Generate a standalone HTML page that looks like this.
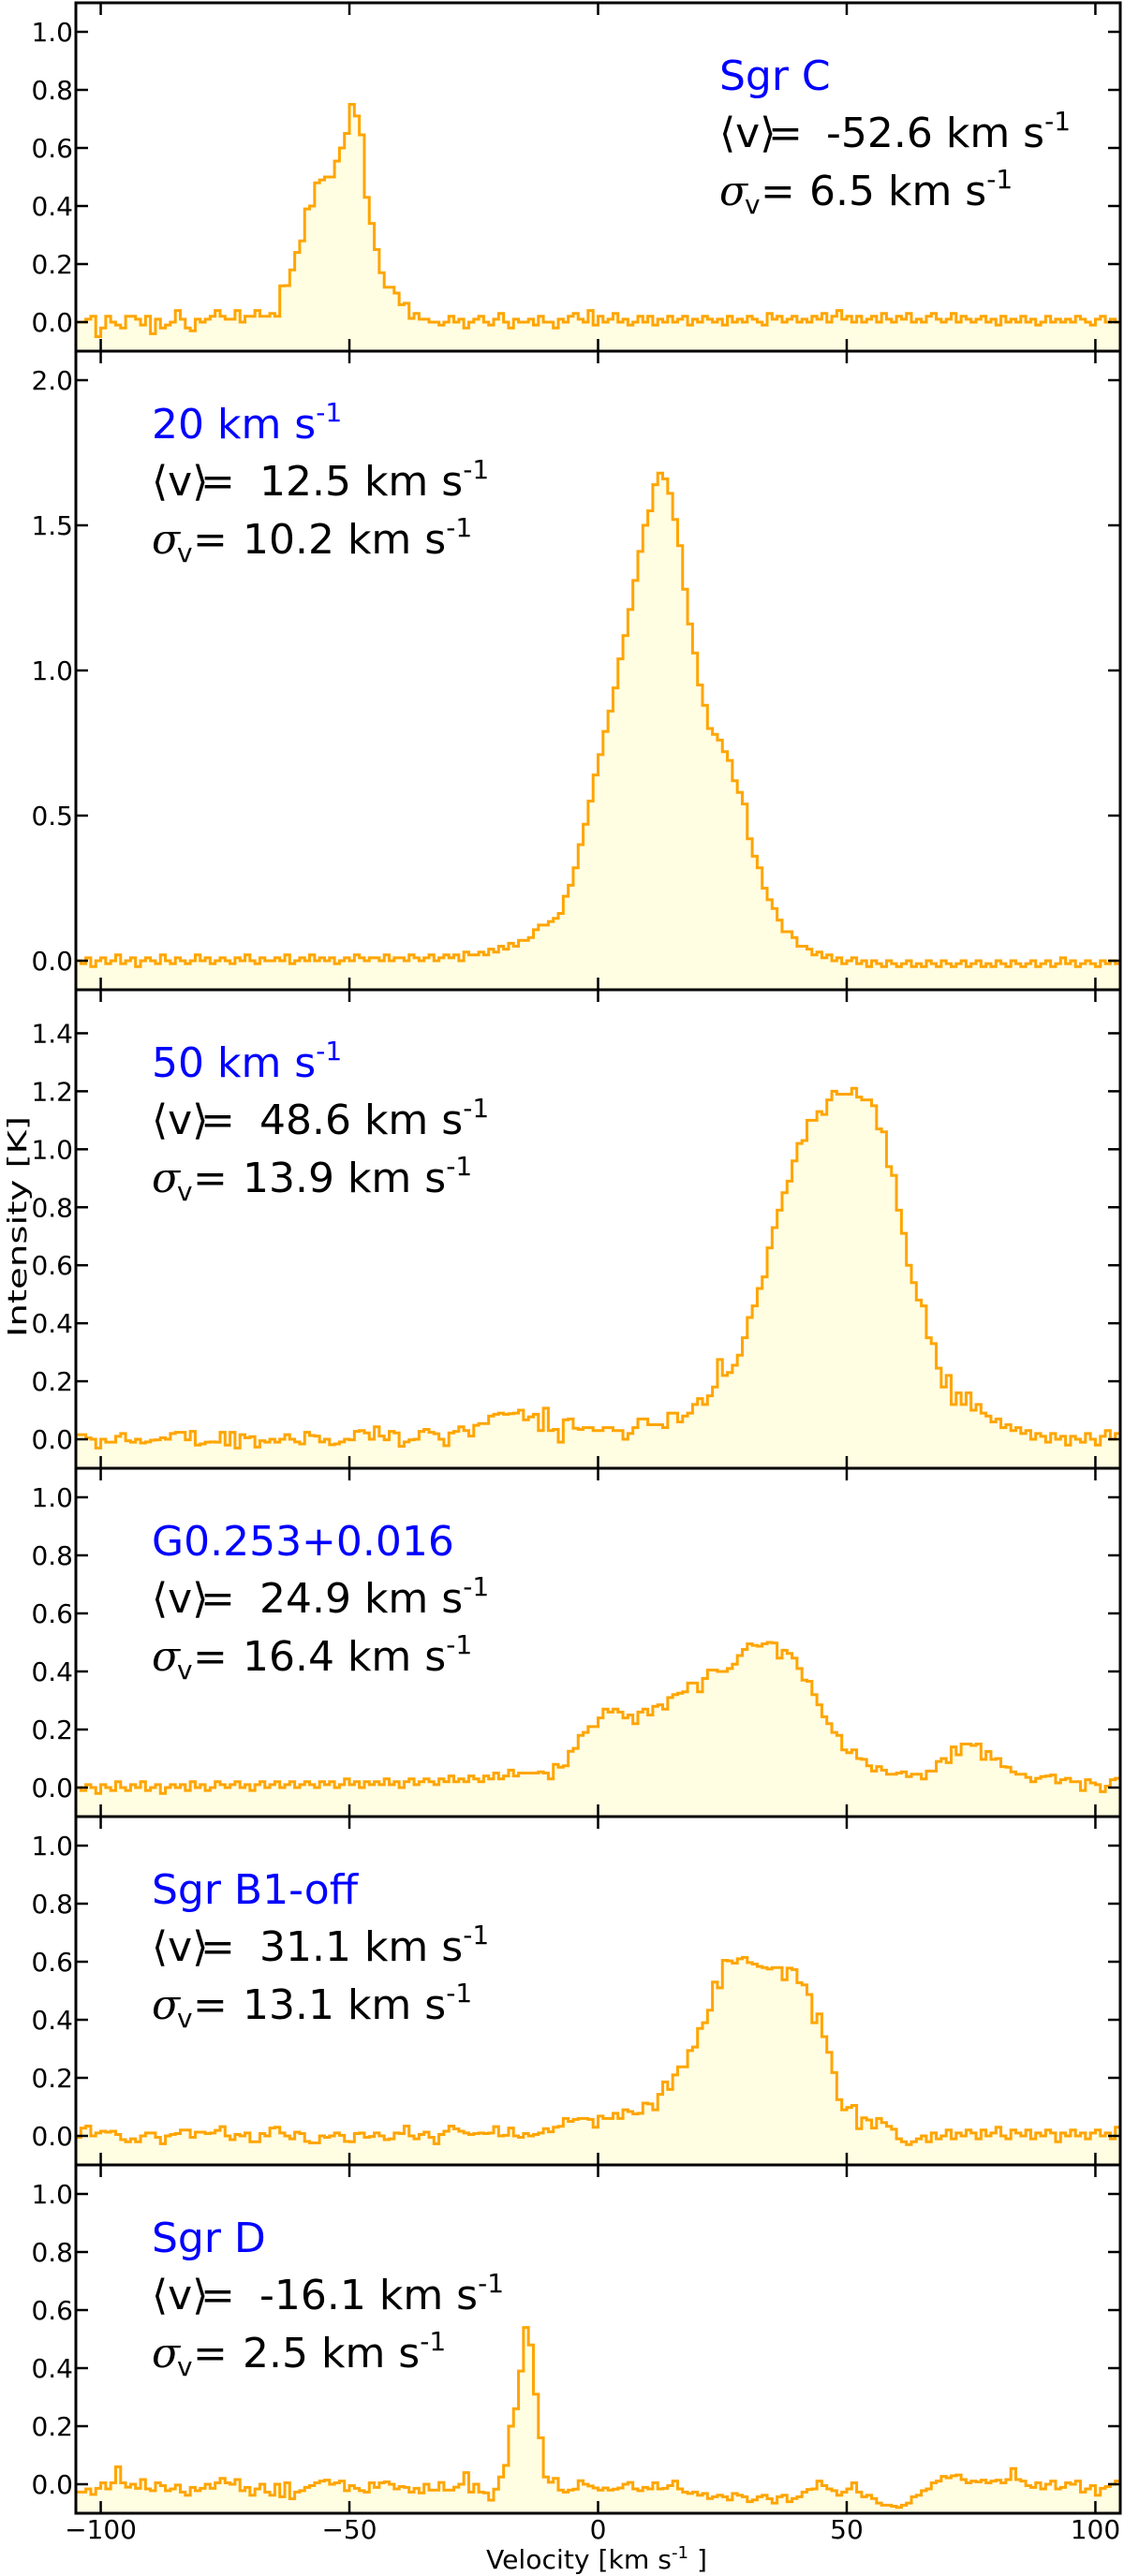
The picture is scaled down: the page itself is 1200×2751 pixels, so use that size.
<!DOCTYPE html>
<html><head><meta charset="utf-8">
<style>
html,body{margin:0;padding:0;background:#fff;}
svg{display:block;font-family:"DejaVu Sans","Liberation Sans",sans-serif;}
.ann{font-size:44px;fill:#000;}
.blue{fill:#0000ff;}
.tick{font-size:28px;fill:#000;}
</style></head>
<body>
<svg id="chart" width="1200" height="2751" viewBox="0 0 1200 2751" xmlns="http://www.w3.org/2000/svg">
<g id="marks"></g>
<g id="axes"></g>
<text transform="translate(28,1310) rotate(-90)" text-anchor="middle" font-size="28" textLength="236" lengthAdjust="spacingAndGlyphs">Intensity  [K]</text>
<text x="637" y="2743" text-anchor="middle" font-size="28" textLength="236" lengthAdjust="spacingAndGlyphs">Velocity  [km s<tspan font-size="18" dy="-11">-1</tspan><tspan dy="11"> ]</tspan></text>

<g class="ann">
<text class="blue" x="768" y="96">Sgr C</text>
<text x="768" y="157">⟨v⟩</text><text x="820" y="157" font-family="DejaVu Serif">=</text><text x="882" y="157">-52.6 km s<tspan font-size="28" dy="-18">-1</tspan></text>
<text x="768" y="219" font-family="DejaVu Serif" font-style="italic">σ</text><text x="795" y="228" font-size="28">v</text><text x="812" y="219" font-family="DejaVu Serif">=</text><text x="864" y="219">6.5 km s<tspan font-size="28" dy="-18">-1</tspan></text>
</g>
<g class="ann">
<text class="blue" x="162" y="468">20 km s<tspan font-size="28" dy="-18">-1</tspan></text>
<text x="162" y="529">⟨v⟩</text><text x="214" y="529" font-family="DejaVu Serif">=</text><text x="277" y="529">12.5 km s<tspan font-size="28" dy="-18">-1</tspan></text>
<text x="162" y="591" font-family="DejaVu Serif" font-style="italic">σ</text><text x="189" y="600" font-size="28">v</text><text x="206" y="591" font-family="DejaVu Serif">=</text><text x="259" y="591">10.2 km s<tspan font-size="28" dy="-18">-1</tspan></text>
</g>
<g class="ann">
<text class="blue" x="162" y="1150">50 km s<tspan font-size="28" dy="-18">-1</tspan></text>
<text x="162" y="1211">⟨v⟩</text><text x="214" y="1211" font-family="DejaVu Serif">=</text><text x="277" y="1211">48.6 km s<tspan font-size="28" dy="-18">-1</tspan></text>
<text x="162" y="1273" font-family="DejaVu Serif" font-style="italic">σ</text><text x="189" y="1282" font-size="28">v</text><text x="206" y="1273" font-family="DejaVu Serif">=</text><text x="259" y="1273">13.9 km s<tspan font-size="28" dy="-18">-1</tspan></text>
</g>
<g class="ann">
<text class="blue" x="162" y="1661">G0.253+0.016</text>
<text x="162" y="1722">⟨v⟩</text><text x="214" y="1722" font-family="DejaVu Serif">=</text><text x="277" y="1722">24.9 km s<tspan font-size="28" dy="-18">-1</tspan></text>
<text x="162" y="1784" font-family="DejaVu Serif" font-style="italic">σ</text><text x="189" y="1793" font-size="28">v</text><text x="206" y="1784" font-family="DejaVu Serif">=</text><text x="259" y="1784">16.4 km s<tspan font-size="28" dy="-18">-1</tspan></text>
</g>
<g class="ann">
<text class="blue" x="162" y="2033">Sgr B1-off</text>
<text x="162" y="2094">⟨v⟩</text><text x="214" y="2094" font-family="DejaVu Serif">=</text><text x="277" y="2094">31.1 km s<tspan font-size="28" dy="-18">-1</tspan></text>
<text x="162" y="2156" font-family="DejaVu Serif" font-style="italic">σ</text><text x="189" y="2165" font-size="28">v</text><text x="206" y="2156" font-family="DejaVu Serif">=</text><text x="259" y="2156">13.1 km s<tspan font-size="28" dy="-18">-1</tspan></text>
</g>
<g class="ann">
<text class="blue" x="162" y="2405">Sgr D</text>
<text x="162" y="2466">⟨v⟩</text><text x="214" y="2466" font-family="DejaVu Serif">=</text><text x="277" y="2466">-16.1 km s<tspan font-size="28" dy="-18">-1</tspan></text>
<text x="162" y="2528" font-family="DejaVu Serif" font-style="italic">σ</text><text x="189" y="2537" font-size="28">v</text><text x="206" y="2528" font-family="DejaVu Serif">=</text><text x="259" y="2528">2.5 km s<tspan font-size="28" dy="-18">-1</tspan></text>
</g>
</svg>
<script>
// velocity channels: left edge of first bin and bin width (km/s)
const vStart = -105;
const binWidth = 1;
const xTickValues = [-100, -50, 0, 50, 100];
const xTickLabels = ["\u2212100", "\u221250", "0", "50", "100"];

// Intensities [K], one value per 1 km/s channel from -105 to 104
const sgrC = [
0.00,0.00,0.01,0.02,-0.05,-0.02,0.02,0.00,-0.01,-0.02,
0.02,0.02,0.01,-0.01,0.02,-0.04,0.01,-0.02,-0.01,0.00,
0.04,0.01,-0.02,-0.03,0.01,0.00,0.01,0.02,0.04,0.02,
0.01,0.01,0.04,0.00,0.02,0.02,0.04,0.02,0.02,0.03,
0.02,0.125,0.126,0.18,0.24,0.28,0.39,0.40,0.48,0.49,
0.50,0.50,0.555,0.60,0.65,0.75,0.71,0.645,0.43,0.34,
0.25,0.17,0.12,0.12,0.10,0.06,0.065,0.013,0.03,0.01,
0.01,0.00,0.00,-0.01,0.00,0.02,0.00,0.01,-0.02,0.00,
0.01,0.02,0.00,-0.01,0.01,0.03,0.00,-0.02,0.01,0.00,
0.00,0.01,-0.01,0.02,0.00,0.00,-0.02,0.01,0.00,0.02,
0.03,0.01,0.00,0.04,-0.01,0.02,0.00,0.01,0.03,0.00,
0.01,-0.01,0.00,0.02,0.00,0.02,-0.01,0.01,0.00,0.02,
0.00,0.01,0.02,-0.01,0.01,0.00,0.02,0.01,0.00,0.01,
-0.01,0.02,0.00,0.01,0.00,0.02,0.01,0.00,-0.01,0.03,
0.01,0.02,0.00,0.01,0.02,0.00,0.01,0.00,0.02,0.01,
0.03,0.00,0.02,0.04,0.01,0.02,0.00,0.02,0.00,0.01,
0.02,0.00,0.03,0.01,0.00,0.02,0.01,0.03,0.00,0.01,
0.00,0.02,0.03,0.01,0.00,0.01,0.03,0.00,0.02,0.01,
0.00,0.01,0.02,0.00,0.01,-0.01,0.02,0.00,0.01,0.00,
0.02,0.00,0.01,-0.01,0.00,0.02,0.00,0.01,0.00,0.01,
0.00,0.02,0.01,0.00,-0.01,0.01,0.02,0.00,0.01,0.00];
const cloud20 = [
0.00,-0.01,0.01,-0.02,0.00,0.01,-0.01,0.00,0.02,-0.01,
0.00,0.01,-0.02,0.00,0.01,0.00,-0.01,0.02,0.00,-0.01,
0.01,0.00,-0.01,0.00,0.02,0.00,0.01,-0.01,0.00,0.01,
0.00,-0.01,0.01,0.00,0.02,0.00,-0.01,0.01,0.00,0.00,
0.01,0.00,0.02,-0.01,0.00,0.01,0.00,0.02,0.00,0.01,
0.00,0.01,-0.01,0.00,0.01,0.00,0.02,0.01,0.00,0.01,
0.01,0.00,0.02,0.00,0.01,0.01,0.00,0.02,0.01,0.00,
0.01,0.02,0.00,0.01,0.02,0.01,0.02,0.00,0.03,0.02,
0.02,0.03,0.02,0.04,0.03,0.05,0.04,0.06,0.05,0.07,
0.07,0.08,0.107,0.123,0.123,0.135,0.146,0.163,0.222,0.26,
0.32,0.40,0.47,0.55,0.64,0.71,0.79,0.86,0.94,1.04,
1.12,1.21,1.31,1.41,1.50,1.55,1.64,1.68,1.66,1.61,
1.52,1.43,1.28,1.16,1.06,0.95,0.88,0.80,0.78,0.76,
0.72,0.69,0.62,0.58,0.54,0.42,0.36,0.32,0.25,0.21,
0.18,0.14,0.10,0.10,0.08,0.05,0.05,0.04,0.02,0.03,
0.01,0.02,0.00,0.01,-0.01,0.00,0.01,-0.01,0.00,-0.02,
0.00,-0.01,-0.02,0.00,-0.01,-0.02,-0.01,0.00,-0.02,-0.01,
-0.02,0.00,-0.01,-0.02,0.00,-0.01,-0.02,-0.01,0.00,-0.02,
-0.01,0.00,-0.02,-0.01,-0.02,0.00,-0.01,-0.02,0.00,-0.01,
-0.02,-0.01,0.00,-0.02,-0.01,0.00,-0.02,-0.01,0.01,-0.01,
0.00,-0.02,-0.01,0.00,-0.01,-0.02,0.00,-0.01,0.00,-0.01];
const cloud50 = [
0.016,0.016,0.005,0.00,-0.03,0.00,-0.01,-0.01,0.01,0.02,
-0.005,-0.01,0.00,-0.013,-0.009,-0.003,-0.002,0.005,0.00,0.02,
0.024,0.024,-0.002,0.027,-0.02,-0.016,-0.01,-0.009,-0.01,0.024,
-0.02,0.024,-0.03,0.016,0.005,0.009,-0.027,-0.005,-0.01,0.00,
-0.01,0.00,0.016,0.00,-0.009,-0.016,0.024,0.013,0.011,-0.009,
0.00,-0.019,-0.016,-0.009,0.00,-0.002,0.027,0.03,0.022,0.00,
0.043,0.011,-0.002,0.027,0.022,-0.024,-0.009,-0.002,0.00,0.027,
0.034,0.024,0.019,0.00,-0.022,0.022,0.027,0.043,0.03,0.011,
0.048,0.054,0.054,0.08,0.086,0.09,0.086,0.088,0.09,0.10,
0.067,0.077,0.086,0.03,0.107,0.03,0.034,-0.01,0.067,0.07,
0.038,0.034,0.04,0.04,0.03,0.03,0.04,0.04,0.03,0.03,
0.00,0.02,0.04,0.07,0.07,0.05,0.05,0.05,0.04,0.09,
0.09,0.06,0.08,0.09,0.12,0.14,0.12,0.15,0.18,0.275,
0.22,0.23,0.255,0.29,0.35,0.42,0.46,0.52,0.56,0.66,
0.73,0.79,0.85,0.89,0.96,1.02,1.03,1.10,1.10,1.13,
1.12,1.17,1.20,1.19,1.19,1.19,1.21,1.18,1.17,1.17,
1.15,1.07,1.06,0.94,0.91,0.79,0.71,0.60,0.54,0.48,
0.46,0.35,0.33,0.245,0.18,0.22,0.12,0.16,0.12,0.16,
0.10,0.12,0.09,0.08,0.06,0.07,0.04,0.05,0.03,0.04,
0.02,0.03,0.00,0.02,0.01,-0.01,0.02,0.00,0.01,-0.02,
0.01,0.00,-0.01,0.02,0.00,-0.02,0.01,0.03,0.00,0.02];
const g0253 = [
0.00,-0.01,0.01,0.00,-0.02,0.01,0.00,-0.01,0.02,0.00,
-0.01,0.01,0.00,0.02,-0.01,0.00,0.01,-0.02,0.00,0.01,
0.00,0.01,-0.01,0.02,0.00,0.01,-0.01,0.00,0.02,0.01,
0.00,0.01,0.02,0.00,0.01,-0.01,0.01,0.02,0.00,0.01,
0.02,0.00,0.01,0.02,0.00,0.01,0.02,0.01,0.00,0.02,
0.01,0.02,0.00,0.01,0.03,0.01,0.02,0.00,0.02,0.01,
0.02,0.01,0.03,0.01,0.02,0.00,0.02,0.03,0.01,0.02,
0.03,0.02,0.01,0.03,0.02,0.04,0.02,0.03,0.02,0.04,
0.03,0.02,0.04,0.03,0.05,0.03,0.04,0.06,0.04,0.05,
0.05,0.05,0.05,0.054,0.05,0.03,0.08,0.07,0.075,0.125,
0.135,0.18,0.19,0.21,0.21,0.24,0.27,0.26,0.27,0.26,
0.24,0.25,0.22,0.26,0.27,0.25,0.28,0.285,0.27,0.31,
0.32,0.325,0.33,0.36,0.36,0.33,0.376,0.405,0.405,0.40,
0.40,0.41,0.425,0.455,0.476,0.495,0.49,0.487,0.495,0.50,
0.498,0.446,0.473,0.462,0.446,0.41,0.37,0.366,0.32,0.285,
0.244,0.22,0.19,0.18,0.13,0.12,0.13,0.10,0.097,0.075,
0.057,0.072,0.06,0.046,0.046,0.05,0.054,0.038,0.046,0.046,
0.03,0.057,0.057,0.09,0.10,0.086,0.14,0.113,0.15,0.15,
0.145,0.15,0.097,0.124,0.097,0.10,0.072,0.07,0.054,0.046,
0.046,0.035,0.02,0.032,0.038,0.04,0.043,0.016,0.027,0.032,
0.02,0.02,-0.01,0.027,0.016,0.01,-0.014,0.005,0.027,0.032];
const sgrB1off = [
-0.005,0.027,0.034,0.00,0.01,0.016,0.013,0.016,0.005,-0.013,
-0.02,-0.01,-0.02,0.00,0.01,0.01,-0.005,-0.027,0.00,0.005,
0.008,0.02,0.02,-0.005,0.013,0.013,0.008,0.01,0.019,0.032,
0.00,-0.013,0.005,0.00,0.01,-0.02,-0.02,0.008,0.00,0.027,
0.03,0.01,0.00,-0.01,0.013,0.008,-0.019,-0.024,-0.024,0.00,
-0.005,0.00,0.01,0.002,-0.019,-0.02,0.008,0.01,-0.005,-0.002,
0.01,0.00,-0.013,-0.01,0.01,0.008,0.034,0.00,-0.01,0.005,
0.013,-0.005,-0.027,0.005,0.016,0.034,0.024,0.016,0.01,0.005,
0.008,0.01,0.008,0.01,0.032,0.00,0.002,0.027,0.00,-0.005,
0.008,0.00,0.005,0.01,0.025,0.014,0.03,0.033,0.06,0.05,
0.057,0.06,0.06,0.057,0.03,0.068,0.06,0.06,0.078,0.06,
0.09,0.084,0.076,0.078,0.113,0.11,0.09,0.143,0.186,0.16,
0.21,0.238,0.238,0.294,0.306,0.37,0.39,0.433,0.53,0.51,
0.605,0.603,0.595,0.61,0.615,0.597,0.592,0.584,0.58,0.575,
0.58,0.58,0.538,0.578,0.573,0.528,0.52,0.487,0.39,0.42,
0.342,0.288,0.218,0.125,0.09,0.098,0.105,0.025,0.062,0.055,
0.027,0.06,0.046,0.033,0.023,-0.01,-0.02,-0.03,-0.02,-0.01,
0.00,-0.02,0.01,-0.01,0.00,0.02,-0.01,0.01,0.00,0.02,
0.01,-0.01,0.02,0.00,0.01,0.03,0.00,-0.01,0.02,0.01,
0.00,0.02,-0.01,0.01,0.00,0.02,0.01,-0.02,0.01,0.00,
0.02,0.00,0.01,-0.01,0.01,0.02,0.00,0.01,-0.01,0.03];
const sgrD = [
-0.027,-0.027,-0.016,-0.035,-0.014,0.005,-0.016,0.005,0.06,0.005,
-0.01,0.00,-0.014,0.016,-0.016,-0.022,0.005,-0.005,-0.022,-0.016,
-0.003,-0.027,-0.038,-0.011,-0.022,-0.014,0.00,-0.014,0.005,0.02,
0.005,0.00,0.016,-0.022,-0.011,-0.038,-0.016,0.00,-0.027,-0.038,
0.00,-0.043,0.005,-0.05,-0.027,-0.022,-0.011,-0.005,0.005,0.011,
0.014,0.00,0.005,0.011,-0.022,-0.005,-0.014,-0.022,-0.027,0.005,
-0.011,0.005,0.008,0.00,-0.016,-0.008,-0.011,-0.027,-0.014,-0.03,
0.00,-0.02,-0.02,0.006,-0.02,-0.02,-0.01,0.00,0.04,-0.027,
0.00,-0.027,-0.03,-0.055,-0.017,0.025,0.065,0.20,0.26,0.39,
0.54,0.48,0.31,0.16,0.025,0.007,0.02,-0.02,-0.027,-0.02,
-0.017,0.012,0.00,-0.006,-0.013,-0.02,-0.013,-0.02,-0.017,-0.013,
0.00,0.006,-0.016,-0.022,-0.011,-0.016,0.005,-0.016,-0.014,-0.005,
0.011,-0.016,-0.027,-0.032,-0.027,-0.038,-0.032,-0.049,-0.043,-0.038,
-0.043,-0.054,-0.032,-0.038,-0.043,-0.06,-0.054,-0.043,-0.038,-0.05,
-0.065,-0.043,-0.038,-0.06,-0.049,-0.043,-0.027,-0.018,-0.016,0.011,
-0.005,-0.016,-0.022,-0.038,-0.027,-0.016,0.005,-0.027,-0.043,-0.038,
-0.049,-0.065,-0.072,-0.072,-0.076,-0.08,-0.072,-0.065,-0.043,-0.038,
-0.022,-0.016,0.005,0.011,0.027,0.022,0.029,0.032,0.016,0.005,
0.011,0.008,0.014,0.005,0.011,0.014,0.005,0.016,0.054,0.016,
0.011,-0.005,-0.011,0.005,-0.016,0.00,0.011,-0.016,-0.011,0.005,
0.00,0.011,-0.027,-0.016,-0.005,-0.038,-0.014,-0.008,0.00,0.011];

const panelNames = ["sgr-c", "20-kms", "50-kms", "g0253", "sgr-b1-off", "sgr-d"];
const panelSeries = [sgrC, cloud20, cloud50, g0253, sgrB1off, sgrD];
const yMins = [-0.1, -0.1, -0.1, -0.1, -0.1, -0.1];
const yMaxs = [1.1, 2.1, 1.55, 1.1, 1.1, 1.1];
const yTickSets = [
  [0, 0.2, 0.4, 0.6, 0.8, 1.0],
  [0, 0.5, 1.0, 1.5, 2.0],
  [0, 0.2, 0.4, 0.6, 0.8, 1.0, 1.2, 1.4],
  [0, 0.2, 0.4, 0.6, 0.8, 1.0],
  [0, 0.2, 0.4, 0.6, 0.8, 1.0],
  [0, 0.2, 0.4, 0.6, 0.8, 1.0]];

// layout (pixels)
const plotLeft = 81, plotRight = 1196, vMin = -105, vMax = 105;
const panelTops = [3, 375, 1057, 1568, 1940, 2312];
const panelBottoms = [375, 1057, 1568, 1940, 2312, 2684];

const NS = "http://www.w3.org/2000/svg";
const marks = document.getElementById("marks");
const axes = document.getElementById("axes");
function xScale(v) { return plotLeft + (v - vMin) * (plotRight - plotLeft) / (vMax - vMin); }
function mk(tag, attrs, parent) {
  const e = document.createElementNS(NS, tag);
  for (const k in attrs) e.setAttribute(k, attrs[k]);
  parent.appendChild(e);
  return e;
}

panelSeries.forEach(function (vals, p) {
  const top = panelTops[p], bot = panelBottoms[p];
  const yScale = function (val) { return bot - (val - yMins[p]) * (bot - top) / (yMaxs[p] - yMins[p]); };
  const clipId = "clip" + p;
  const cp = mk("clipPath", { id: clipId }, marks);
  mk("rect", { x: plotLeft, y: top, width: plotRight - plotLeft, height: bot - top }, cp);
  let d = "M" + xScale(vStart).toFixed(2) + "," + yScale(vals[0]).toFixed(2);
  for (let i = 0; i < vals.length; i++) {
    d += "H" + xScale(vStart + (i + 1) * binWidth).toFixed(2);
    if (i + 1 < vals.length) d += "V" + yScale(vals[i + 1]).toFixed(2);
  }
  const fillD = d + "V" + bot + "H" + xScale(vStart).toFixed(2) + "Z";
  const fill = mk("path", { d: fillD, fill: "#fffde2", stroke: "none", "clip-path": "url(#" + clipId + ")" }, marks);
  
  
  const line = mk("path", { d: d, fill: "none", stroke: "#ffa500", "stroke-width": 3, "stroke-linejoin": "miter", "clip-path": "url(#" + clipId + ")" }, marks);
  
  

  yTickSets[p].forEach(function (t) {
    const yy = yScale(t);
    const tl = mk("line", { x1: plotLeft, x2: plotLeft + 13, y1: yy, y2: yy, stroke: "#000", "stroke-width": 2.5 }, axes);
    
    
    const tr = mk("line", { x1: plotRight - 13, x2: plotRight, y1: yy, y2: yy, stroke: "#000", "stroke-width": 2.5 }, axes);
    
    
    const lab = mk("text", { x: 78, y: yy + 10, "text-anchor": "end", class: "tick" }, axes);
    lab.textContent = t.toFixed(1);
    
    
  });
  xTickValues.forEach(function (v) {
    const xx = xScale(v);
    const tb = mk("line", { x1: xx, x2: xx, y1: bot, y2: bot - 13, stroke: "#000", "stroke-width": 2.5 }, axes);
    
    
    const tt = mk("line", { x1: xx, x2: xx, y1: top, y2: top + 13, stroke: "#000", "stroke-width": 2.5 }, axes);
    
    
  });
  const frame = mk("rect", { x: plotLeft, y: top, width: plotRight - plotLeft, height: bot - top, fill: "none", stroke: "#000", "stroke-width": 3 }, axes);
  
  
});

xTickValues.forEach(function (v, i) {
  const lab = mk("text", { x: xScale(v), y: 2711, "text-anchor": "middle", class: "tick" }, axes);
  lab.textContent = xTickLabels[i];
  
  
});
</script>
</body></html>
